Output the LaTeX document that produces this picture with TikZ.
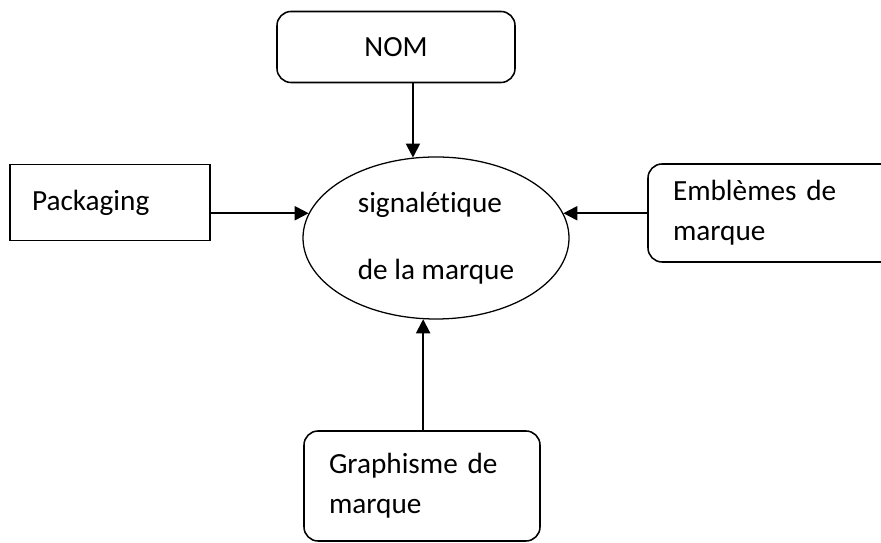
\documentclass[tikz,border=0pt]{standalone}
\usepackage{fontspec}
\setmainfont{Carlito}[Ligatures=NoCommon]
\usetikzlibrary{positioning,shapes.geometric,arrows.meta}

\begin{document}
\begin{tikzpicture}[
  font=\fontsize{20.8}{28.5}\selectfont,
  box/.style={draw, line width=1.1pt, minimum height=1.9cm, inner xsep=0.625cm, align=left},
  rbox/.style={box, rounded corners=10pt},
  centre/.style={ellipse, draw, line width=0.9pt, minimum width=6.65cm, minimum height=4.05cm, inner sep=0pt, align=left},
  arr/.style={-{Triangle[length=10pt,width=10pt]}, line width=1.4pt},
]
\useasboundingbox (0,0) rectangle (22.025,13.575);
\clip (0,0) rectangle (22.025,13.575);

% Centre
\node[centre] (signal) at (10.9,7.625) {signalétique\\[19pt]de la marque};

% Boxes round it
\node[rbox, minimum width=5.95cm, minimum height=1.775cm, align=center] (nom) at (9.9,12.4) {NOM};
\node[box, text width=3.9cm, inner xsep=0.55cm] (pack) at (2.75,8.5125) {Packaging};
\node[rbox, text width=4.925cm, minimum height=2.45cm] (emb) at (19.2875,8.25) {Emblèmes de\\marque};
\node[rbox, text width=4.65cm, minimum height=2.75cm] (graph) at (10.55,1.425) {Graphisme de\\marque};

% Arrows into the centre
\draw[arr] (nom.south -| signal.106) -- (signal.106);
\draw[arr] (pack.east |- signal.169) -- (signal.169);
\draw[arr] (emb.west |- signal.11) -- (signal.11);
\draw[arr] (graph.north -| signal.261) -- (signal.261);

\end{tikzpicture}
\end{document}
